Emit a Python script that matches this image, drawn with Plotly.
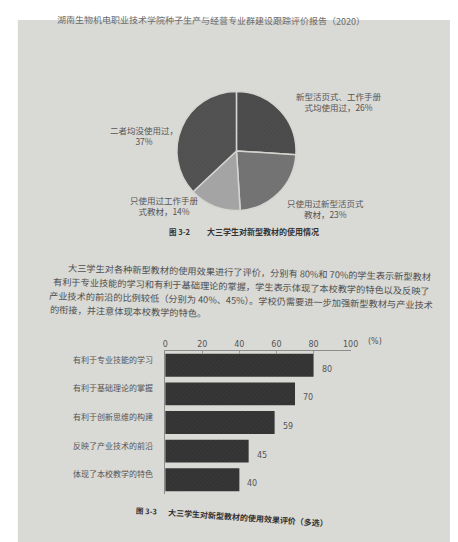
import plotly.graph_objects as go

W, H = 458, 542
def px(x): return x / W
def py(y): return 1 - y / H

CJK = "Noto Sans CJK SC"
NUM = "DejaVu Sans"

# ---------------- data ----------------
header_text = "湖南生物机电职业技术学院种子生产与经营专业群建设跟踪评价报告（2020）"

pie_labels = ["新型活页式、工作手册式均使用过", "只使用过新型活页式教材", "只使用过工作手册式教材", "二者均没使用过"]
pie_values = [26, 23, 14, 37]
pie_colors = ["#4a4a4a", "#727272", "#a4a4a4", "#505050"]
pie_label_lines = [["新型活页式、工作手册", "式均使用过，26%"],
                   ["只使用过新型活页式", "教材，23%"],
                   ["只使用过工作手册", "式教材，14%"],
                   ["二者均没使用过，", "37%"]]
pie_caption = ["图 3-2", "大三学生对新型教材的使用情况"]

paragraph_lines = [
    "大三学生对各种新型教材的使用效果进行了评价，分别有 80%和 70%的学生表示新型教材",
    "有利于专业技能的学习和有利于基础理论的掌握，学生表示体现了本校教学的特色以及反映了",
    "产业技术的前沿的比例较低（分别为 40%、45%）。学校仍需要进一步加强新型教材与产业技术",
    "的衔接，并注意体现本校教学的特色。",
]

bar_categories = ["有利于专业技能的学习", "有利于基础理论的掌握", "有利于创新思维的构建",
                  "反映了产业技术的前沿", "体现了本校教学的特色"]
bar_values = [80, 70, 59, 45, 40]
bar_ticks = [0, 20, 40, 60, 80, 100]
bar_caption = ["图 3-3", "大三学生对新型教材的使用效果评价（多选）"]

# ---------------- figure ----------------
fig = go.Figure()

fig.add_trace(go.Pie(
    labels=pie_labels, values=pie_values, sort=False, direction="clockwise", rotation=0,
    marker=dict(colors=pie_colors, line=dict(color="#d4d4d0", width=1.5),
                pattern=dict(shape="x", fillmode="overlay", fgcolor="rgba(150,150,150,0.35)",
                             size=3, solidity=0.15)),
    textinfo="none", hoverinfo="label+percent", showlegend=False,
    domain=dict(x=[px(170), px(292)], y=[py(204), py(82)]),
))

fig.add_trace(go.Bar(
    x=bar_values, y=bar_categories, orientation="h",
    marker=dict(color="#333333", line=dict(width=0),
                pattern=dict(shape="/", fillmode="overlay", fgcolor="rgba(90,90,90,0.5)",
                             size=3, solidity=0.25)),
    xaxis="x", yaxis="y", showlegend=False, width=0.8,
))

shapes = [
    dict(type="rect", xref="paper", yref="paper", x0=px(7), x1=px(458), y0=0, y1=py(12),
         fillcolor="#d9d9d5", line=dict(width=0), layer="below"),
    dict(type="rect", xref="paper", yref="paper", x0=px(452), x1=px(458), y0=0, y1=py(250),
         fillcolor="#c4c4c0", line=dict(width=0), layer="below"),
]

ann = []
ann.append(dict(text=header_text, x=px(205), y=py(12), xref="paper", yref="paper",
                showarrow=False, font=dict(family=CJK, size=9, color="#6a6a6a"),
                xanchor="center", yanchor="middle", textangle=0.3))

label_pos = [(336, 91), (322, 197), (157, 194), (136, 124)]
for lines, (lx, ly) in zip(pie_label_lines, label_pos):
    ann.append(dict(text="<br>".join(lines), x=px(lx), y=py(ly + 3), xref="paper", yref="paper",
                    showarrow=False, align="center", font=dict(family=CJK, size=8.5, color="#555555"),
                    xanchor="center", yanchor="middle"))

ann.append(dict(text="<b>" + pie_caption[0] + "</b>", x=px(173), y=py(223), xref="paper", yref="paper",
                showarrow=False, xanchor="center", yanchor="middle",
                font=dict(family=CJK, size=7.5, color="#333333")))
ann.append(dict(text="<b>" + pie_caption[1] + "</b>", x=px(258), y=py(223), xref="paper", yref="paper",
                showarrow=False, xanchor="center", yanchor="middle",
                font=dict(family=CJK, size=8, color="#333333")))

para_pos = [(244, 264), (236, 278), (236, 292), (120, 303)]
for t, (cx, cy) in zip(paragraph_lines, para_pos):
    ann.append(dict(text=t, x=px(cx), y=py(cy), xref="paper", yref="paper", showarrow=False,
                    font=dict(family=CJK, size=9.2, color="#505050"), xanchor="center",
                    yanchor="middle", textangle=1.4))

for c in bar_categories:
    ann.append(dict(text=c, x=px(148), y=c, xref="paper", yref="y", yshift=6, showarrow=False,
                    xanchor="right", yanchor="middle", font=dict(family=CJK, size=8, color="#555555")))
for c, v in zip(bar_categories, bar_values):
    ann.append(dict(text=str(v), x=v, y=c, xref="x", yref="y", xshift=6, yshift=-4, showarrow=False,
                    xanchor="left", yanchor="middle", font=dict(family=NUM, size=8, color="#555555")))
ann.append(dict(text="(%)", x=px(364), y=py(333), xref="paper", yref="paper", showarrow=False,
                xanchor="left", yanchor="middle", font=dict(family=NUM, size=8, color="#555555")))

ann.append(dict(text="<b>" + bar_caption[0] + "</b>", x=px(139), y=py(502), xref="paper", yref="paper",
                showarrow=False, xanchor="center", yanchor="middle",
                font=dict(family=CJK, size=7.5, color="#333333"), textangle=3))
ann.append(dict(text="<b>" + bar_caption[1] + "</b>", x=px(243), y=py(509), xref="paper", yref="paper",
                showarrow=False, xanchor="center", yanchor="middle",
                font=dict(family=CJK, size=8, color="#333333"), textangle=4))

fig.update_layout(
    width=W, height=H, margin=dict(l=0, r=0, t=0, b=0),
    paper_bgcolor="white", plot_bgcolor="rgba(0,0,0,0)",
    shapes=shapes, annotations=ann,
    bargap=0.18,
    xaxis=dict(domain=[px(158), px(348)], range=[0, 100], side="top", anchor="y",
               tickvals=bar_ticks, ticks="inside", ticklen=3, tickcolor="#999999",
               tickfont=dict(family=NUM, size=8, color="#555555"),
               showline=True, linecolor="#8c8c8c", linewidth=1, mirror=False,
               showgrid=False, zeroline=False, fixedrange=True),
    yaxis=dict(domain=[py(486), py(343)], autorange="reversed", anchor="x",
               showticklabels=False, ticks="", showline=True, linecolor="#8c8c8c", linewidth=1,
               showgrid=False, zeroline=False, fixedrange=True),
)

fig.write_html("out.html")
